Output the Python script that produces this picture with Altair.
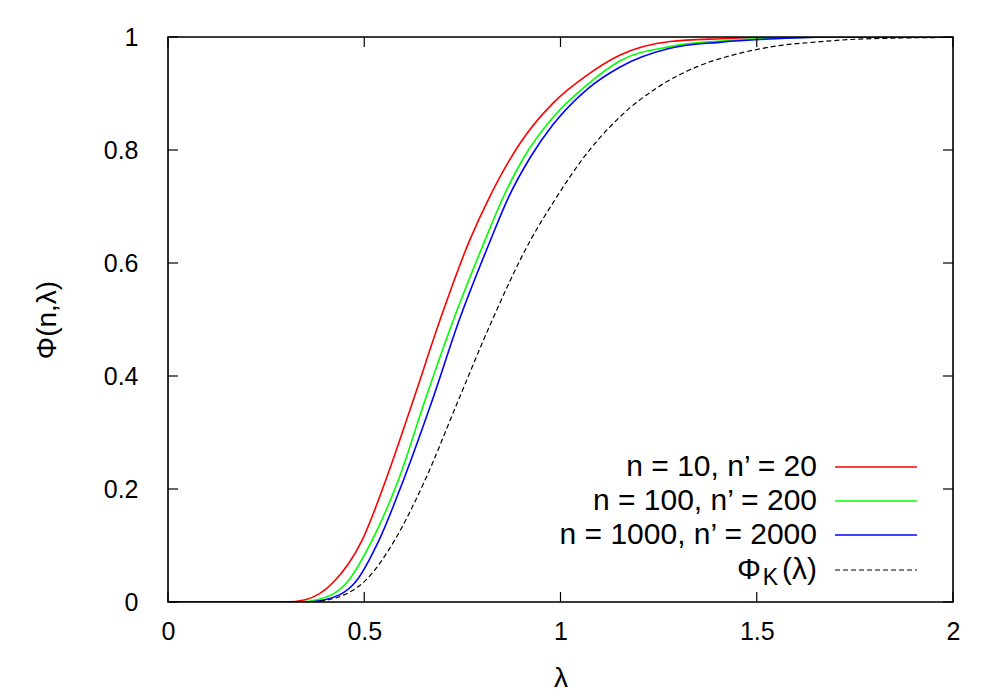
import altair as alt
import pandas as pd

# ---- data ----
red_x = [0.0, 0.30, 0.35, 0.42, 0.495, 0.555, 0.625, 0.693, 0.769, 0.818, 0.870, 0.897, 0.981, 1.067, 1.152, 1.279, 1.41, 1.55, 2.0]
red_y = [0.0, 0.0, 0.004, 0.034, 0.110, 0.216, 0.3575, 0.499, 0.641, 0.715, 0.782, 0.812, 0.883, 0.932, 0.968, 0.992, 0.997, 1.0, 1.0]

green_x = [0.0, 0.33, 0.38, 0.455, 0.5205, 0.587, 0.655, 0.727, 0.808, 0.851, 0.905, 0.981, 1.067, 1.152, 1.279, 1.41, 1.55, 1.7, 2.0]
green_y = [0.0, 0.0, 0.004, 0.034, 0.110, 0.216, 0.3575, 0.499, 0.641, 0.712, 0.785, 0.858, 0.915, 0.958, 0.983, 0.993, 0.998, 1.0, 1.0]

blue_x = [0.0, 0.35, 0.40, 0.476, 0.538, 0.600, 0.6735, 0.742, 0.822, 0.866, 0.924, 0.981, 1.067, 1.152, 1.279, 1.41, 1.55, 1.7, 2.0]
blue_y = [0.0, 0.0, 0.004, 0.034, 0.110, 0.216, 0.3575, 0.499, 0.641, 0.714, 0.788, 0.845, 0.907, 0.947, 0.980, 0.991, 0.997, 1.0, 1.0]

k_x = [0.0, 0.35, 0.40, 0.45, 0.50, 0.578, 0.655, 0.740, 0.826, 0.924, 0.986, 1.054, 1.152, 1.25, 1.35, 1.45, 1.55, 1.65, 1.75, 1.85, 2.0]
k_y = [0.0, 0.0, 0.003, 0.013, 0.036, 0.110, 0.216, 0.3575, 0.499, 0.641, 0.712, 0.782, 0.859, 0.912, 0.948, 0.970, 0.984, 0.991, 0.996, 0.998, 0.9993]

x_ticks = [0, 0.5, 1, 1.5, 2]
y_ticks = [0, 0.2, 0.4, 0.6, 0.8, 1]
legend_labels = ["n = 10, n\u2019 = 20", "n = 100, n\u2019 = 200", "n = 1000, n\u2019 = 2000"]
colors = ["#ff0000", "#00ff00", "#0000ff"]

# ---- layout ----
W, H = 785, 565
TICKFONT = "Liberation Sans"
LEGFONT = "Liberation Sans"
TICK = 10

rows = []
for name, xs_, ys_ in [("r", red_x, red_y), ("g", green_x, green_y), ("b", blue_x, blue_y), ("k", k_x, k_y)]:
    for a, b in zip(xs_, ys_):
        rows.append({"s": name, "lam": a, "phi": b})
df = pd.DataFrame(rows)

xs = alt.Scale(domain=[0, 2], nice=False, zero=False)
ys = alt.Scale(domain=[0, 1], nice=False, zero=False)

base = alt.Chart(df)
lines = []
for i, (name, col) in enumerate(zip(["r", "g", "b"], colors)):
    if i == 0:
        xenc = alt.X("lam:Q", scale=xs, axis=alt.Axis(values=x_ticks, ticks=False, domain=False, grid=False,
                                                       labelFont=TICKFONT, labelFontSize=25, labelColor="black",
                                                       labelPadding=17, title="\u03bb", titleFont=TICKFONT,
                                                       titleFontSize=28, titleFontWeight="normal", titleColor="black",
                                                       titlePadding=20, format="~g", labelFlush=False))
        yenc = alt.Y("phi:Q", scale=ys, axis=alt.Axis(values=y_ticks, ticks=False, domain=False, grid=False,
                                                       labelFont=TICKFONT, labelFontSize=25, labelColor="black",
                                                       labelPadding=30, title="\u03a6(n,\u03bb)", titleFont=TICKFONT,
                                                       titleFontSize=28, titleFontWeight="normal", titleColor="black",
                                                       titlePadding=42, format="~g", labelFlush=False))
    else:
        xenc = alt.X("lam:Q", scale=xs)
        yenc = alt.Y("phi:Q", scale=ys)
    lines.append(
        base.transform_filter(alt.datum.s == name)
        .mark_line(color=col, strokeWidth=1.6, interpolate="monotone", clip=True)
        .encode(x=xenc, y=yenc, order="lam:Q")
    )
kline = (
    base.transform_filter(alt.datum.s == "k")
    .mark_line(color="black", strokeWidth=1.2, strokeDash=[5, 3], interpolate="monotone", clip=True)
    .encode(x=alt.X("lam:Q", scale=xs), y=alt.Y("phi:Q", scale=ys), order="lam:Q")
)

# inward ticks on all four sides
xt = pd.DataFrame({"t": x_ticks})
yt = pd.DataFrame({"t": y_ticks})
xt_bot = alt.Chart(xt).mark_rule(color="black", strokeWidth=1.2).encode(
    x=alt.X("t:Q", scale=xs), y=alt.value(H), y2=alt.value(H - TICK))
xt_top = alt.Chart(xt).mark_rule(color="black", strokeWidth=1.2).encode(
    x=alt.X("t:Q", scale=xs), y=alt.value(0), y2=alt.value(TICK))
yt_left = alt.Chart(yt).mark_rule(color="black", strokeWidth=1.2).encode(
    y=alt.Y("t:Q", scale=ys), x=alt.value(0), x2=alt.value(TICK))
yt_right = alt.Chart(yt).mark_rule(color="black", strokeWidth=1.2).encode(
    y=alt.Y("t:Q", scale=ys), x=alt.value(W), x2=alt.value(W - TICK))

frame = alt.Chart(pd.DataFrame({"f": [0]})).mark_rect(fillOpacity=0, stroke="black", strokeWidth=1.6).encode(
    x=alt.value(0), x2=alt.value(W), y=alt.value(0), y2=alt.value(H))

# legend (inside, bottom right)
LEG_TEXT_X = 649
LEG_LINE_X1, LEG_LINE_X2 = 667, 749
LEG_Y = [430, 464, 498, 533]
leg_df = pd.DataFrame({"label": legend_labels, "col": colors, "yy": LEG_Y[:3]})
leg_text = alt.Chart(leg_df).mark_text(align="right", baseline="middle", font=LEGFONT, fontSize=30, color="black").encode(
    x=alt.value(LEG_TEXT_X), y=alt.Y("yy:Q", scale=None), text="label:N")
leg_lines = alt.Chart(leg_df).mark_rule(strokeWidth=1.5).encode(
    x=alt.value(LEG_LINE_X1), x2=alt.value(LEG_LINE_X2), y=alt.Y("yy:Q", scale=None),
    color=alt.Color("col:N", scale=None))
k_df = pd.DataFrame({"yy": [LEG_Y[3]]})
k_line = alt.Chart(k_df).mark_rule(strokeWidth=1.2, strokeDash=[5, 3], color="black").encode(
    x=alt.value(LEG_LINE_X1), x2=alt.value(LEG_LINE_X2), y=alt.Y("yy:Q", scale=None))
k_paren = alt.Chart(k_df).mark_text(align="right", baseline="middle", font=LEGFONT, fontSize=30, color="black", text="(\u03bb)").encode(
    x=alt.value(LEG_TEXT_X), y=alt.Y("yy:Q", scale=None))
k_sub = alt.Chart(k_df).mark_text(align="right", baseline="middle", font=LEGFONT, fontSize=23, color="black", text="K", dy=8).encode(
    x=alt.value(LEG_TEXT_X - 39), y=alt.Y("yy:Q", scale=None))
k_phi = alt.Chart(k_df).mark_text(align="right", baseline="middle", font=LEGFONT, fontSize=30, color="black", text="\u03a6").encode(
    x=alt.value(LEG_TEXT_X - 56), y=alt.Y("yy:Q", scale=None))

chart = alt.layer(
    *lines, kline, xt_bot, xt_top, yt_left, yt_right, frame,
    leg_text, leg_lines, k_line, k_paren, k_sub, k_phi
).properties(
    width=W, height=H,
    autosize=alt.AutoSizeParams(type="none"),
    padding={"left": 160, "top": 29, "right": 30, "bottom": 96},
).configure_view(
    stroke="black", strokeWidth=1.5
).configure(background="white")

chart.save("out.html", embed_options={"renderer": "svg", "actions": False})
